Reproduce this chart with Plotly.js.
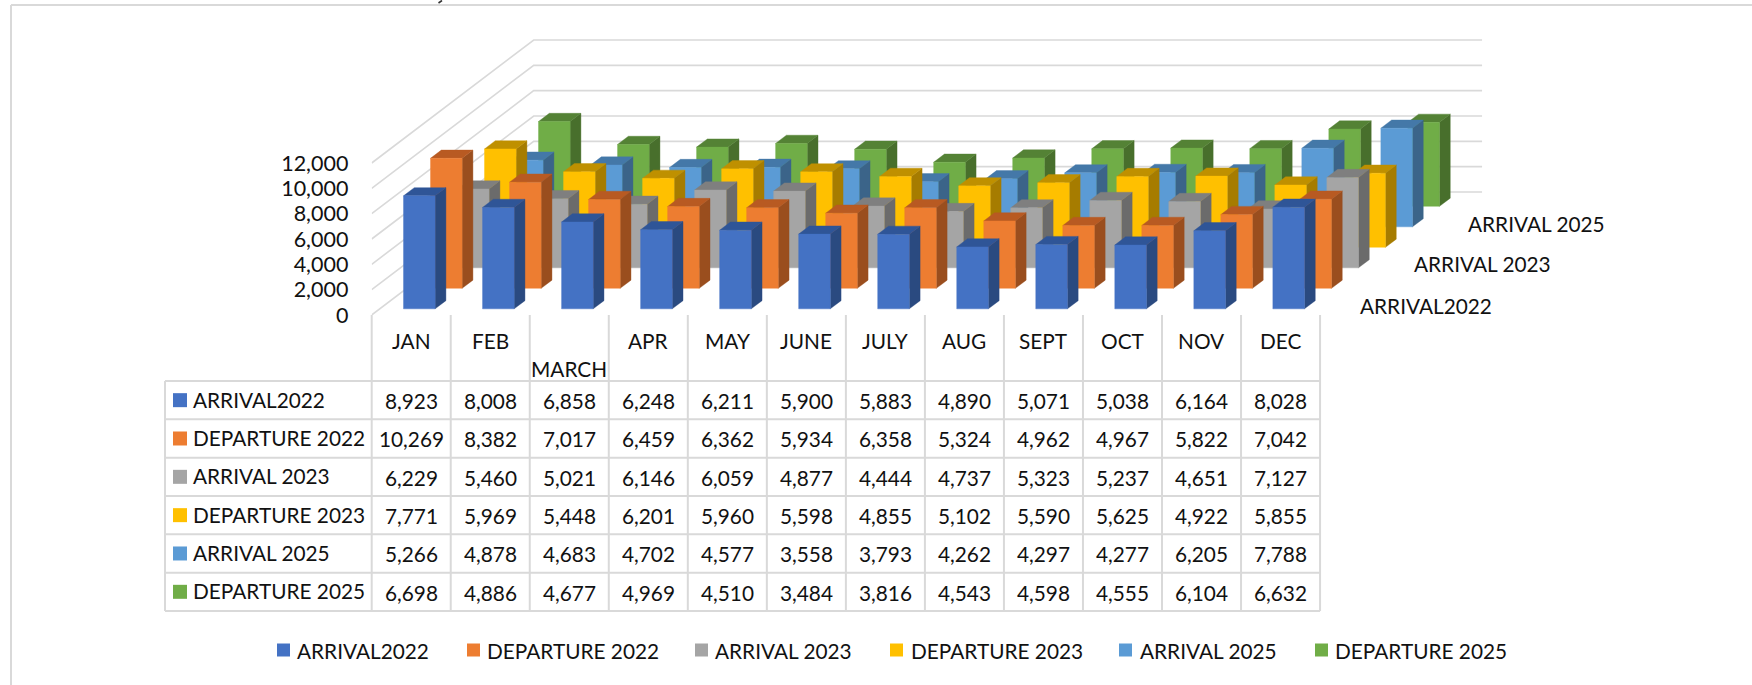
<!DOCTYPE html>
<html><head><meta charset="utf-8">
<script src="https://cdn.plot.ly/plotly-3.0.1.min.js"></script>
<style>html,body{margin:0;padding:0;background:#fff}#c{width:1752px;height:685px}</style>
</head><body><div id="c"></div>
<script>
const months = ["JAN","FEB","MARCH","APR","MAY","JUNE","JULY","AUG","SEPT","OCT","NOV","DEC"];
const seriesNames = ["ARRIVAL2022","DEPARTURE 2022","ARRIVAL 2023","DEPARTURE 2023","ARRIVAL 2025","DEPARTURE 2025"];
const arrival2022   = [8923,8008,6858,6248,6211,5900,5883,4890,5071,5038,6164,8028];
const departure2022 = [10269,8382,7017,6459,6362,5934,6358,5324,4962,4967,5822,7042];
const arrival2023   = [6229,5460,5021,6146,6059,4877,4444,4737,5323,5237,4651,7127];
const departure2023 = [7771,5969,5448,6201,5960,5598,4855,5102,5590,5625,4922,5855];
const arrival2025   = [5266,4878,4683,4702,4577,3558,3793,4262,4297,4277,6205,7788];
const departure2025 = [6698,4886,4677,4969,4510,3484,3816,4543,4598,4555,6104,6632];
const yTicks = [0,2000,4000,6000,8000,10000,12000];
const depthLabels = ["ARRIVAL2022","ARRIVAL 2023","ARRIVAL 2025"];

const seriesValues = [arrival2022,departure2022,arrival2023,departure2023,arrival2025,departure2025];
const frontColors = ["#4472C4","#ED7D31","#A5A5A5","#FFC000","#5B9BD5","#70AD47"];
const sideColors  = ["#2A4A80","#9A4E1E","#6B6B6B","#A67C00","#3B6489","#486F2C"];
const topColors   = ["#2F5597","#B85A22","#7F7F7F","#BF9000","#4478A8","#548235"];

const W = 1752, H = 685;
const X0 = 371.7, CAT = 79.03, Y0 = 315, PX_PER_UNIT = 152/12000;
// oblique depth vector, in axis units
const DX = 162/CAT, DY = 123/PX_PER_UNIT;
const FONT = "Lato", FS = 20.8, TXT = "#111111", GRID = "#d9d9d9";
const px = x => x/W, py = y => 1 - y/H;
const proj = (c,v,d) => [c + d*DX, v + d*DY];

const traces = [];
// walls
{
  const xs=[], ys=[];
  yTicks.forEach(v=>{
    [[0,v,0],[0,v,1],[12,v,1]].forEach(p=>{const q=proj(...p); xs.push(q[0]); ys.push(q[1]);});
    xs.push(null); ys.push(null);
  });
  traces.push({type:"scatter",mode:"lines",x:xs,y:ys,line:{color:GRID,width:1.6},hoverinfo:"skip",showlegend:false});
}
function poly(pts,col,name){
  return {type:"scatter",mode:"lines",x:pts.map(p=>p?p[0]:null),y:pts.map(p=>p?p[1]:null),
    fill:"toself",fillcolor:col,line:{color:col,width:0.4},hoverinfo:"skip",showlegend:false,name};
}
const slot = 1/6, dStart = 0.3*slot, dSize = 0.4*slot;
for(let s=5;s>=0;s--){
  const front=[],side=[],top=[];
  const d0 = s*slot + dStart, d1 = d0 + dSize;
  seriesValues[s].forEach((v,i)=>{
    const a=i+0.3,b=i+0.7;
    [[a,0,d0],[b,0,d0],[b,v,d0],[a,v,d0],[a,0,d0]].forEach(p=>front.push(proj(...p))); front.push(null);
    [[b,0,d0],[b,0,d1],[b,v,d1],[b,v,d0],[b,0,d0]].forEach(p=>side.push(proj(...p))); side.push(null);
    [[a,v,d0],[b,v,d0],[b,v,d1],[a,v,d1],[a,v,d0]].forEach(p=>top.push(proj(...p))); top.push(null);
  });
  traces.push(poly(side,sideColors[s],seriesNames[s]));
  traces.push(poly(top,topColors[s],seriesNames[s]));
  traces.push(poly(front,frontColors[s],seriesNames[s]));
}

const shapes=[], ann=[];
const hline=(x0,x1,y,w)=>shapes.push({type:"line",xref:"paper",yref:"paper",x0:px(x0),x1:px(x1),y0:py(y),y1:py(y),line:{color:GRID,width:w||2}});
const vline=(x,y0,y1,w)=>shapes.push({type:"line",xref:"paper",yref:"paper",x0:px(x),x1:px(x),y0:py(y0),y1:py(y1),line:{color:GRID,width:w||2}});
const text=(t,x,y,anchor)=>ann.push({text:t,xref:"paper",yref:"paper",x:px(x),y:py(y),xanchor:anchor||"center",yanchor:"middle",showarrow:false,font:{family:FONT,size:FS,color:TXT}});
const swatch=(x,y,s,col)=>shapes.push({type:"rect",xref:"paper",yref:"paper",x0:px(x),x1:px(x+s),y0:py(y-s/2),y1:py(y+s/2),fillcolor:col,line:{width:0}});

// outer frame
hline(11,W,5,2); vline(11,5,H,2);
// small dark speck at the very top edge of the picture
shapes.push({type:"line",xref:"paper",yref:"paper",x0:px(438.5),x1:px(442),y0:py(3),y1:py(0.5),line:{color:"#333333",width:1.6}});

// data table
const TL=165, TOP=381, ROW=38.33, TR=X0+12*CAT;
for(let r=0;r<=6;r++) hline(TL,TR,TOP+r*ROW);
vline(TL,TOP,TOP+6*ROW);
for(let c=0;c<=12;c++) vline(X0+c*CAT,Y0,TOP+6*ROW);
months.forEach((m,i)=>text(m,X0+(i+0.5)*CAT,m==="MARCH"?368:340));
seriesNames.forEach((n,r)=>{
  const y=TOP+(r+0.5)*ROW;
  swatch(173,y,14,frontColors[r]);
  text(n,191,y-1,"left");
  seriesValues[r].forEach((v,i)=>text(v.toLocaleString("en-US"),X0+(i+0.5)*CAT,y+0.5));
});

// depth axis labels
const depthX=[1358,1412,1466], depthY=[306,264,223];
depthLabels.forEach((t,i)=>text(t,depthX[i],depthY[i],"left"));

// legend
const legSw=[277,467,695,890,1119,1315], legTx=[295,485,713,909,1138,1333];
seriesNames.forEach((n,i)=>{ swatch(legSw[i],650,13,frontColors[i]); text(n,legTx[i],650,"left"); });

const layout={
  width:W,height:H,margin:{l:0,r:0,t:0,b:0},paper_bgcolor:"#fff",plot_bgcolor:"rgba(0,0,0,0)",
  showlegend:false,hovermode:false,
  font:{family:FONT,size:FS,color:TXT},
  xaxis:{domain:[px(X0),1],range:[0,(W-X0)/CAT],showgrid:false,zeroline:false,showline:false,showticklabels:false,ticks:""},
  yaxis:{domain:[py(Y0),1],range:[0,Y0/PX_PER_UNIT],showgrid:false,zeroline:false,showline:false,
    tickmode:"array",tickvals:yTicks,tickformat:",d",ticks:"outside",ticklen:18,tickcolor:"rgba(0,0,0,0)",
    tickfont:{family:FONT,size:21.5,color:TXT}},
  shapes,annotations:ann
};
Plotly.newPlot("c",traces,layout,{displayModeBar:false,staticPlot:true});
</script></body></html>
